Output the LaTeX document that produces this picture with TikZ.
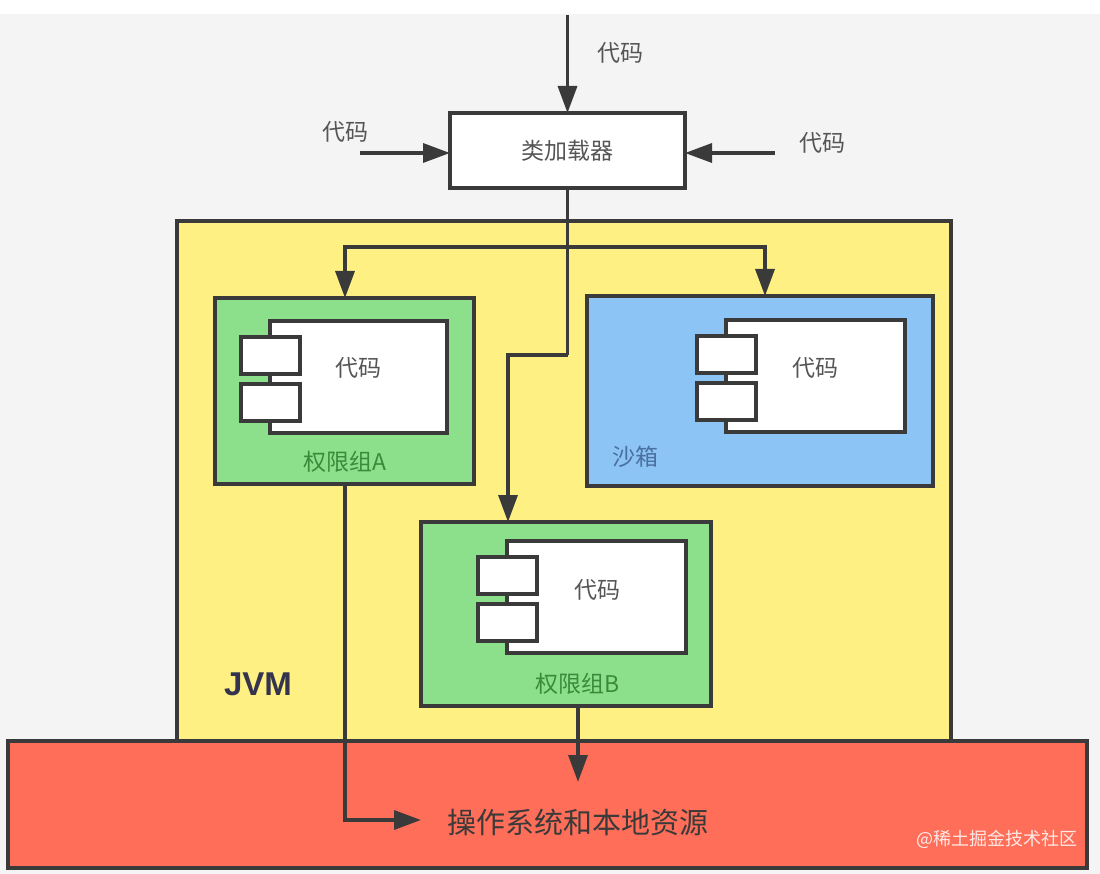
\documentclass[tikz,border=0pt]{standalone}
\usepackage{fontspec}
\setmainfont{Noto Sans CJK SC}
\newfontfamily\latinbold{Liberation Sans}
\usetikzlibrary{arrows.meta}
\definecolor{bgc}{HTML}{F4F4F4}
\definecolor{linec}{HTML}{3A3A3A}
\definecolor{jvmc}{HTML}{FEF083}
\definecolor{grnc}{HTML}{8CE08C}
\definecolor{bluec}{HTML}{8CC4F5}
\definecolor{redc}{HTML}{FF6E58}
\definecolor{txtc}{HTML}{555555}
\definecolor{grntxt}{HTML}{3A8A3A}
\definecolor{bluetxt}{HTML}{4A6FA0}
\tikzset{
  box/.style={draw=linec, line width=3.4pt, inner sep=0pt, outer sep=0pt},
  conn/.style={draw=linec, line width=3.4pt},
  arr/.style={conn, -{Triangle[length=27pt,width=19pt]}},
  lbl/.style={text=txtc, font=\fontsize{23}{26}\selectfont, inner sep=0pt},
}
\newcommand{\comp}[4]{%
  % #1 name, #2 main left x, #3 top y, #4 right x
  \node[box, fill=white, minimum width=#4pt-#2pt, minimum height=112pt, anchor=north west] (#1) at (#2,#3) {};
  \node[box, fill=white, minimum width=59pt, minimum height=37pt, anchor=north west] (#1s1) at (#2-29,#3+16) {};
  \node[box, fill=white, minimum width=59pt, minimum height=37pt, anchor=north west] (#1s2) at (#2-29,#3+63) {};
}
\begin{document}
\begin{tikzpicture}[x=1pt,y=-1pt]
\useasboundingbox (0,0) rectangle (1100,874);
\fill[bgc] (0,0) rectangle (1100,874);
\fill[white] (0,0) rectangle (1100,14);

% JVM
\node[box, fill=jvmc, minimum width=774pt, minimum height=521pt, anchor=north west] (jvm) at (177,221) {};
\node[font=\latinbold\bfseries\fontsize{33}{36}\selectfont, text=linec!90!blue] (jvmlbl) at (258,684) {JVM};

% class loader
\node[box, fill=white, minimum width=235pt, minimum height=75pt, anchor=north west] (loader) at (450,113) {};
\node[lbl] (loadertxt) at (loader.center) {类加载器};

\coordinate (topin) at (567.5,15);
\coordinate (leftin) at (360,153);
\coordinate (rightin) at (775,153);
\draw[arr] (topin) -- (topin |- loader.north);
\draw[arr] (leftin) -- (leftin -| loader.west);
\draw[arr] (rightin) -- (rightin -| loader.east);
\node[lbl] (c1) at (620,53) {代码};
\node[lbl] (c2) at (345,132) {代码};
\node[lbl] (c3) at (822,143) {代码};

% group A
\node[box, fill=grnc, minimum width=259pt, minimum height=186pt, anchor=north west] (ga) at (215,298) {};
\comp{ca}{270}{321}{447}
\node[lbl] at (358,368) {代码};
\node[lbl, text=grntxt] (galbl) at (345,462) {权限组A};

% sandbox
\node[box, fill=bluec, minimum width=346pt, minimum height=190pt, anchor=north west] (sb) at (587,296) {};
\comp{cs}{726}{320}{905}
\node[lbl] at (815,368) {代码};
\node[lbl, text=bluetxt] (sblbl) at (635,457) {沙箱};

% group B
\node[box, fill=grnc, minimum width=290pt, minimum height=184pt, anchor=north west] (gb) at (421,522) {};
\comp{cb}{507}{541}{686}
\node[lbl] at (597,590) {代码};
\node[lbl, text=grntxt] (gblbl) at (578,684) {权限组B};

% loader -> groups
\coordinate (split) at (loader.south |- 0,247);
\coordinate (bend) at (loader.south |- 0,355);
\draw[conn] (loader.south) -- (bend);
\draw[arr] (split) -| (345,298);
\draw[arr] (split) -| (765,296);
\draw[arr] (bend) -| (508,522);

% OS box
\node[box, fill=redc, minimum width=1079pt, minimum height=127pt, anchor=north west] (os) at (8,741) {};
\node[text=linec, font=\fontsize{29}{32}\selectfont, inner sep=0pt] (ostxt) at (578,822) {操作系统和本地资源};
\coordinate (osin) at (421,820);
\draw[arr] (345,484) |- (osin);
\draw[arr] (578,706) -- (578,782);

\node[text=white!85!redc, font=\fontsize{18}{20}\selectfont, inner sep=0pt] (wm) at (997,839) {@稀土掘金技术社区};
\end{tikzpicture}
\end{document}
